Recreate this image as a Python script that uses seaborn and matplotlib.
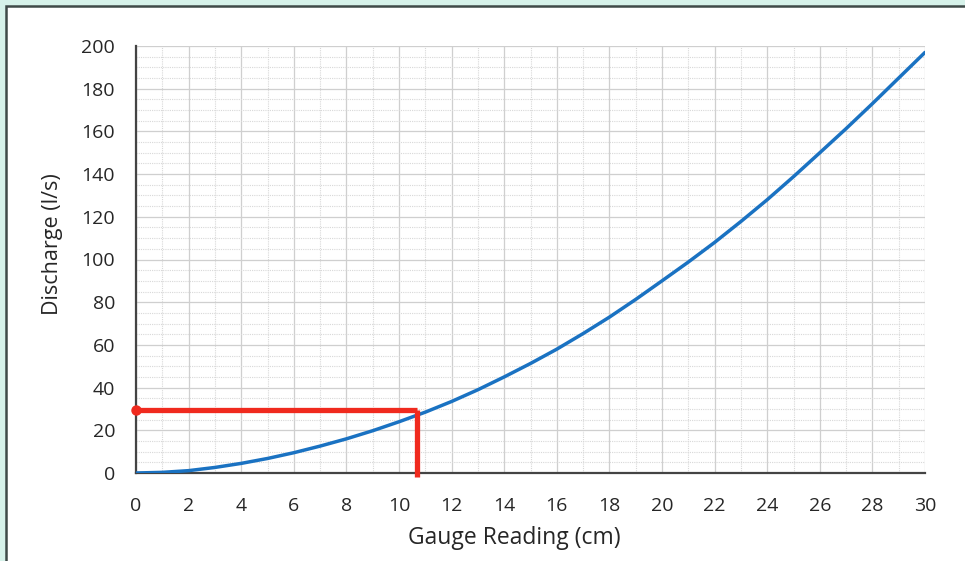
import matplotlib
matplotlib.use("Agg")
import matplotlib.pyplot as plt
from matplotlib.patches import Rectangle
from matplotlib.ticker import MultipleLocator
import seaborn as sns
import pandas as pd

# Rating curve: gauge reading (cm) vs discharge (l/s)
gauge_cm = [0, 1, 2, 3, 4, 5, 6, 7, 8, 9, 10, 11, 12, 13, 14, 15,
            16, 17, 18, 19, 20, 21, 22, 23, 24, 25, 26, 27, 28, 29, 30]
discharge_ls = [0, 0.3, 1.1, 2.6, 4.5, 6.8, 9.5, 12.6, 16, 19.8, 24, 28.5,
                33.5, 39, 45, 51.3, 58, 65.3, 73, 81.3, 90, 98.8, 108,
                117.8, 128, 138.8, 150, 161.3, 173, 185, 197]

# Reading taken off the curve
reading_cm = 10.7
reading_ls = 29.5

x_ticks = list(range(0, 31, 2))
y_ticks = list(range(0, 201, 20))

df = pd.DataFrame({"gauge": gauge_cm, "discharge": discharge_ls})

sns.set_theme(style="white")
plt.rcParams["font.family"] = ["Open Sans", "DejaVu Sans"]

fig = plt.figure(figsize=(9.65, 5.61), dpi=100)
fig.patch.set_facecolor("#d6f2ea")
W, H = 965, 561
# white card with a dark edge on top/left
fig.patches.append(Rectangle((6 / W, -0.01), 1.02, 1 - 6 / H + 0.01,
                             transform=fig.transFigure, facecolor="white",
                             edgecolor="#3f4a48", linewidth=1.8, zorder=-10))

ax = fig.add_axes([136 / W, 1 - 473 / H, (925 - 136) / W, (473 - 46) / H])
ax.set_facecolor("white")

sns.lineplot(data=df, x="gauge", y="discharge", ax=ax, color="#1a72c2",
             linewidth=2.5, zorder=4)

ax.plot([0, reading_cm], [reading_ls, reading_ls], color="#f02a1e",
        linewidth=3.8, solid_capstyle="butt", zorder=5, clip_on=False)
ax.plot([reading_cm, reading_cm], [reading_ls, -2], color="#f02a1e",
        linewidth=3.8, solid_capstyle="butt", zorder=5, clip_on=False)
ax.plot([0], [reading_ls], marker="o", markersize=6.5, color="#f02a1e",
        zorder=6, clip_on=False)

ax.set_xlim(0, 30)
ax.set_ylim(0, 200)
ax.set_xticks(x_ticks)
ax.set_yticks(y_ticks)
ax.xaxis.set_minor_locator(MultipleLocator(1))
ax.yaxis.set_minor_locator(MultipleLocator(5))

ax.grid(which="major", color="#cfcfcf", linewidth=0.9, linestyle="-")
ax.grid(which="minor", color="#d8d8d8", linewidth=0.8, linestyle=(0, (1, 1)))
ax.set_axisbelow(True)

for side in ("top", "right"):
    ax.spines[side].set_visible(False)
for side in ("left", "bottom"):
    ax.spines[side].set_color("#444444")
    ax.spines[side].set_linewidth(1.6)

ax.tick_params(which="major", direction="out", length=5, width=1.4,
               color="#444444", labelsize=14, labelcolor="#262626")
ax.tick_params(axis="y", pad=10)
ax.tick_params(axis="x", pad=12)
ax.tick_params(which="minor", length=0)

ax.set_xlabel("Gauge Reading (cm)", fontsize=16.5, color="#262626")
ax.set_ylabel("Discharge (l/s)", fontsize=15.5, color="#262626")
ax.xaxis.set_label_coords(0.479, -0.152)
ax.xaxis.label.set_va("center")
ax.yaxis.set_label_coords(-0.106, 0.536)
ax.yaxis.label.set_va("center")

fig.savefig("out.png", dpi=100, facecolor=fig.get_facecolor())
